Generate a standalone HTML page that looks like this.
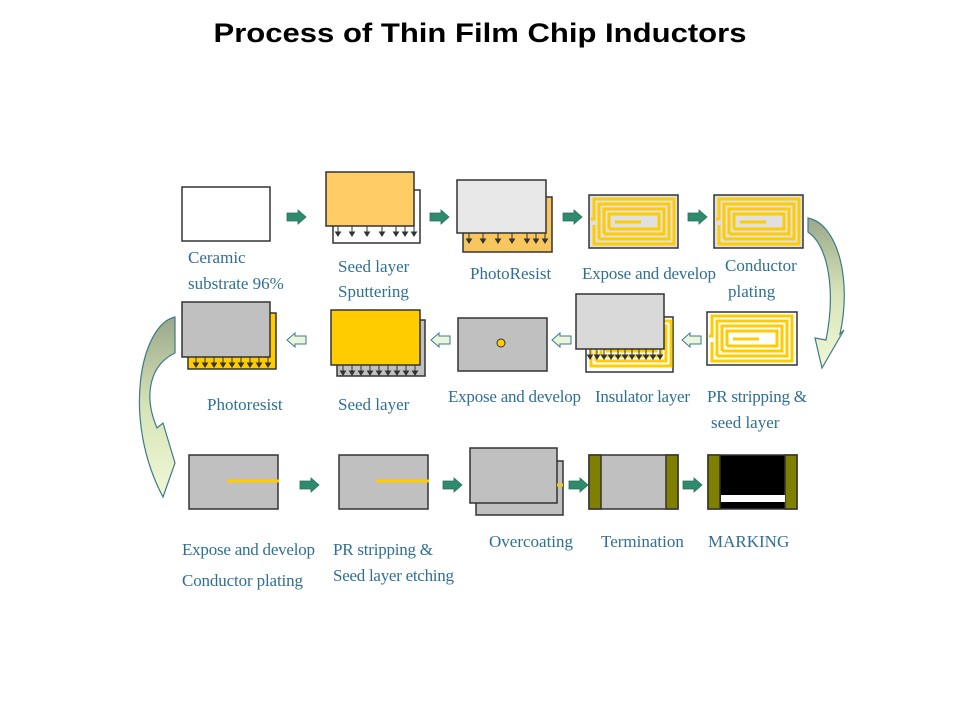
<!DOCTYPE html>
<html><head><meta charset="utf-8"><style>
body{margin:0;background:#fff;width:960px;height:720px;overflow:hidden}
svg{display:block}
.t{font-family:"Liberation Serif",serif;font-size:17px;fill:#2f6f93}
</style></head><body>
<svg width="960" height="720" viewBox="0 0 960 720">
<defs>
<linearGradient id="g1" x1="0" y1="0" x2="0" y2="1"><stop offset="0" stop-color="#9aa88a"/><stop offset="0.5" stop-color="#d7e4b8"/><stop offset="1" stop-color="#f0f8d6"/></linearGradient>
<g id="ga"><path d="M0,-4 H11 V-7 L19,0 L11,7 V4 H0 Z" fill="#2e8b6e" stroke="#26705a" stroke-width="0.8"/></g>
<g id="oa"><path d="M19,-4 H8 V-7 L0,0 L8,7 V4 H19 Z" fill="#eaf5dc" stroke="#3c7a8c" stroke-width="1"/></g>
<g id="coil">
<g fill="none" stroke="#FFCC00" stroke-width="3">
<path d="M2,24 H5 V4 H85 V49 H5 V30"/>
<path d="M10,44 V9 H80 V44 H10"/>
<path d="M15,39 V14 H75 V39 H15"/>
<path d="M20,34 V19 H70 V34 H20"/>
<path d="M26,27 H52"/>
</g></g>
<g id="dn"><g stroke="#333" stroke-width="1" fill="#333"><line x1="0" y1="0" x2="0" y2="8"/><path d="M-2.5,6 L0,10 L2.5,6 Z"/></g></g>
</defs>
<text x="480" y="42" text-anchor="middle" font-family="Liberation Sans,sans-serif" font-weight="bold" font-size="27" textLength="533" lengthAdjust="spacingAndGlyphs">Process of Thin Film Chip Inductors</text>

<!-- Row 1 -->
<rect x="182" y="187" width="88" height="54" fill="#fff" stroke="#333" stroke-width="1.5"/>
<use href="#ga" x="287" y="217"/>
<rect x="333" y="190" width="87" height="53" fill="#fff" stroke="#333" stroke-width="1.5"/>
<rect x="326" y="172" width="88" height="54" fill="#FFCC66" stroke="#333" stroke-width="1.5"/>
<g><use href="#dn" x="338" y="226"/><use href="#dn" x="352" y="226"/><use href="#dn" x="367" y="226"/><use href="#dn" x="382" y="226"/><use href="#dn" x="396" y="226"/><use href="#dn" x="405" y="226"/><use href="#dn" x="414" y="226"/></g>
<use href="#ga" x="430" y="217"/>
<rect x="463" y="197" width="89" height="55" fill="#F8C65E" stroke="#333" stroke-width="1.5"/>
<rect x="457" y="180" width="89" height="53" fill="#e8e8e8" stroke="#333" stroke-width="1.5"/>
<g><use href="#dn" x="469" y="233"/><use href="#dn" x="483" y="233"/><use href="#dn" x="498" y="233"/><use href="#dn" x="512" y="233"/><use href="#dn" x="527" y="233"/><use href="#dn" x="536" y="233"/><use href="#dn" x="545" y="233"/></g>
<use href="#ga" x="563" y="217"/>
<rect x="589" y="195" width="89" height="53" fill="#e0e0e0" stroke="#333" stroke-width="1.5"/>
<use href="#coil" x="589" y="195"/>
<use href="#ga" x="688" y="217"/>
<rect x="714" y="195" width="89" height="53" fill="#e0e0e0" stroke="#333" stroke-width="1.5"/>
<use href="#coil" x="714" y="195"/>

<text class="t" x="188" y="263">Ceramic</text>
<text class="t" x="188" y="289">substrate 96%</text>
<text class="t" x="338" y="272">Seed layer</text>
<text class="t" x="338" y="297">Sputtering</text>
<text class="t" x="470" y="279">PhotoResist</text>
<text class="t" x="582" y="279" textLength="134">Expose and develop</text>
<text class="t" x="725" y="271">Conductor</text>
<text class="t" x="728" y="297">plating</text>

<path d="M808,218 C838,224 852,280 840,334 L844,330 L822,368 L815,338 L826,340 C836,290 828,245 808,232 Z" fill="url(#g1)" stroke="#3c7a8c" stroke-width="1.2"/>

<!-- Row 2 -->
<rect x="707" y="312" width="90" height="53" fill="#fff" stroke="#333" stroke-width="1.5"/>
<use href="#coil" x="707" y="312"/>
<use href="#oa" x="682" y="340"/>
<rect x="586" y="317" width="87" height="55" fill="#fff" stroke="#333" stroke-width="1.5"/>
<use href="#coil" x="586" y="317"/>
<rect x="576" y="294" width="88" height="55" fill="#d9d9d9" stroke="#333" stroke-width="1.5"/>
<g><use href="#dn" x="590" y="349"/><use href="#dn" x="597" y="349"/><use href="#dn" x="604" y="349"/><use href="#dn" x="611" y="349"/><use href="#dn" x="618" y="349"/><use href="#dn" x="625" y="349"/><use href="#dn" x="632" y="349"/><use href="#dn" x="639" y="349"/><use href="#dn" x="646" y="349"/><use href="#dn" x="653" y="349"/><use href="#dn" x="660" y="349"/></g>
<use href="#oa" x="552" y="340"/>
<rect x="458" y="318" width="89" height="53" fill="#c0c0c0" stroke="#333" stroke-width="1.5"/>
<circle cx="501" cy="343" r="4" fill="#FFCC00" stroke="#333" stroke-width="1"/>
<use href="#oa" x="431" y="340"/>
<rect x="337" y="320" width="88" height="56" fill="#c0c0c0" stroke="#333" stroke-width="1.5"/>
<rect x="331" y="310" width="89" height="55" fill="#FFCC00" stroke="#333" stroke-width="1.5"/>
<g><use href="#dn" x="343" y="365"/><use href="#dn" x="352" y="365"/><use href="#dn" x="361" y="365"/><use href="#dn" x="370" y="365"/><use href="#dn" x="379" y="365"/><use href="#dn" x="388" y="365"/><use href="#dn" x="397" y="365"/><use href="#dn" x="406" y="365"/><use href="#dn" x="415" y="365"/></g>
<use href="#oa" x="287" y="340"/>
<rect x="188" y="313" width="88" height="56" fill="#FFCC00" stroke="#333" stroke-width="1.5"/>
<rect x="182" y="302" width="88" height="55" fill="#c0c0c0" stroke="#333" stroke-width="1.5"/>
<g><use href="#dn" x="196" y="357"/><use href="#dn" x="205" y="357"/><use href="#dn" x="214" y="357"/><use href="#dn" x="223" y="357"/><use href="#dn" x="232" y="357"/><use href="#dn" x="241" y="357"/><use href="#dn" x="250" y="357"/><use href="#dn" x="259" y="357"/><use href="#dn" x="268" y="357"/></g>

<text class="t" x="207" y="410">Photoresist</text>
<text class="t" x="338" y="410">Seed layer</text>
<text class="t" x="448" y="402" textLength="133">Expose and develop</text>
<text class="t" x="595" y="402" textLength="95">Insulator layer</text>
<text class="t" x="707" y="402" textLength="100">PR stripping &amp;</text>
<text class="t" x="711" y="428">seed layer</text>

<path d="M175,317 C140,325 122,420 163,497 L175,463 L163,423 L157,428 C143,395 150,365 175,353 Z" fill="url(#g1)" stroke="#3c7a8c" stroke-width="1.2"/>

<!-- Row 3 -->
<rect x="189" y="455" width="89" height="54" fill="#c0c0c0" stroke="#333" stroke-width="1.5"/>
<line x1="227" y1="481" x2="279" y2="481" stroke="#FFCC00" stroke-width="3"/>
<use href="#ga" x="300" y="485"/>
<rect x="339" y="455" width="89" height="54" fill="#c0c0c0" stroke="#333" stroke-width="1.5"/>
<line x1="376" y1="481" x2="429" y2="481" stroke="#FFCC00" stroke-width="3"/>
<use href="#ga" x="443" y="485"/>
<rect x="476" y="461" width="87" height="54" fill="#c0c0c0" stroke="#333" stroke-width="1.5"/>
<rect x="470" y="448" width="87" height="55" fill="#c0c0c0" stroke="#333" stroke-width="1.5"/>
<line x1="557" y1="485" x2="563" y2="485" stroke="#FFCC00" stroke-width="3"/>
<use href="#ga" x="569" y="485"/>
<rect x="589" y="455" width="89" height="54" fill="#c0c0c0" stroke="#333" stroke-width="1.5"/>
<rect x="589" y="455" width="12" height="54" fill="#808000" stroke="#333" stroke-width="1.5"/>
<rect x="666" y="455" width="12" height="54" fill="#808000" stroke="#333" stroke-width="1.5"/>
<use href="#ga" x="683" y="485"/>
<rect x="708" y="455" width="89" height="54" fill="#000" stroke="#333" stroke-width="1.5"/>
<rect x="708" y="455" width="12" height="54" fill="#808000" stroke="#333" stroke-width="1.5"/>
<rect x="785" y="455" width="12" height="54" fill="#808000" stroke="#333" stroke-width="1.5"/>
<rect x="721" y="495" width="64" height="7" fill="#fff"/>

<text class="t" x="182" y="555" textLength="133">Expose and develop</text>
<text class="t" x="182" y="586" textLength="121">Conductor plating</text>
<text class="t" x="333" y="555" textLength="100">PR stripping &amp;</text>
<text class="t" x="333" y="581" textLength="121">Seed layer etching</text>
<text class="t" x="489" y="547">Overcoating</text>
<text class="t" x="601" y="547">Termination</text>
<text class="t" x="708" y="547">MARKING</text>
</svg>
</body></html>
